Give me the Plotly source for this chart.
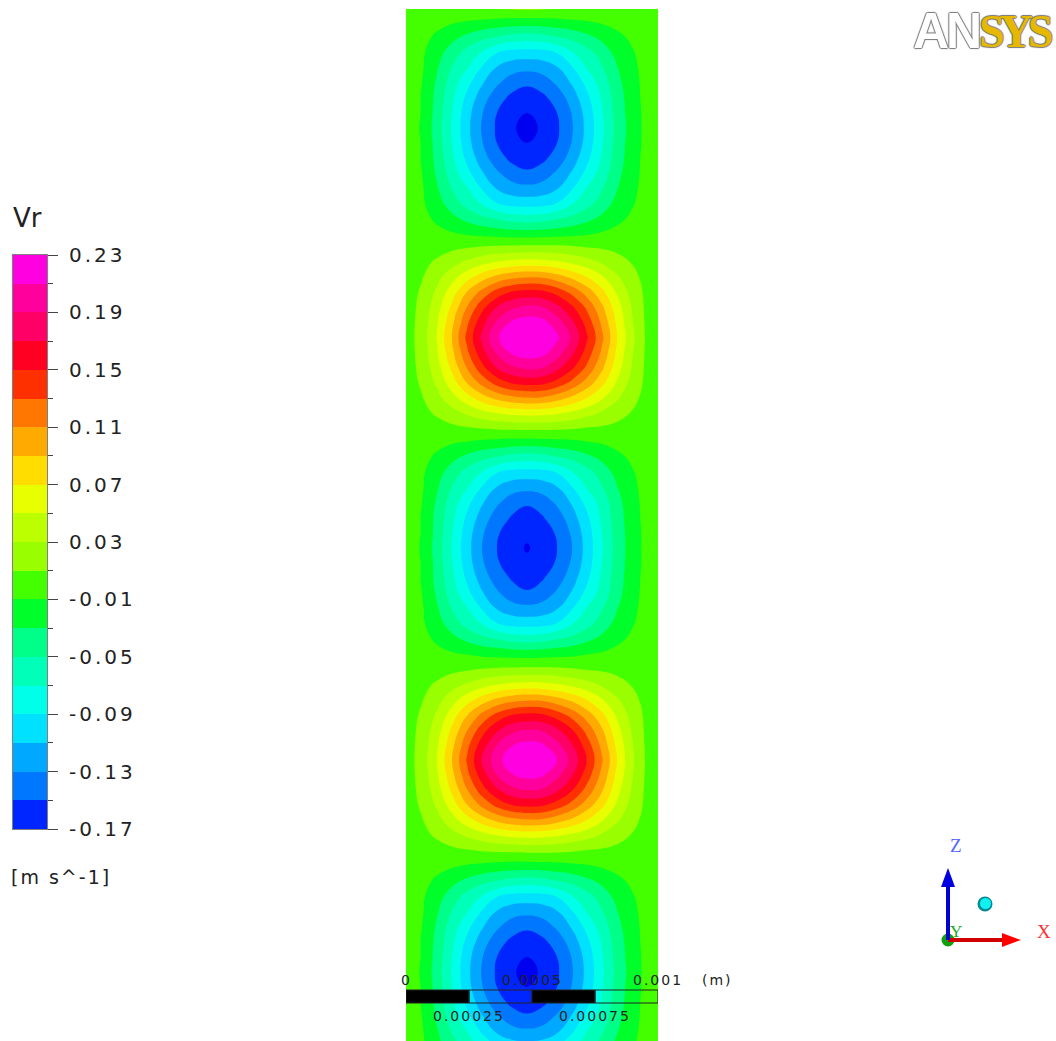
import numpy as np
import plotly.graph_objects as go

W, H = 1056, 1041

# Band colours, lowest (below the legend range) to highest
band_colors = ["#0000f0", "#0026ff", "#0077ff", "#00a8ff", "#00e0ff", "#00ffe8", "#00ffb8", "#00ff88",
               "#00ff2a", "#44ff00", "#99ff00", "#bbff00", "#e8ff00", "#ffdd00", "#ffaa00", "#ff7700",
               "#ff3000", "#ff0022", "#ff0066", "#ff009c", "#ff00e0"]
level_min, level_max, level_step = -0.19, 0.23, 0.02

# Sample positions, in 1/252 mm: across the channel, and downward from the image top
column_pos = [0, 16, 31, 46, 61, 76, 91, 106, 121, 136, 151, 166, 181, 196, 211, 226, 239, 252]
row_depth = [9, 23, 38, 53, 68, 83, 98, 113, 128, 143, 158, 173, 188, 203, 218, 233,
             247.5, 262.5, 277.5, 292.5, 307.5, 322.5, 337.5, 352.5, 367.5, 382.5, 397.5, 412.5, 427.5,
             443, 458, 473, 488, 503, 518, 533, 548, 563, 578, 593, 608, 623, 638, 653,
             670, 685, 700, 715, 730, 745, 760, 775, 790, 805, 820, 835, 850,
             867, 882, 897, 912, 927, 942, 957, 972, 987, 1002, 1017, 1032, 1041]

# Vr readings in thousandths of m/s; one list per vortex cell, rows top to bottom
cell_neg_1 = [
    [0, 1, 3, 5, 7, 9, 10, 11, 12, 11, 10, 9, 7, 5, 3, 1, 0, 0],
    [0, -1, -5, -9, -13, -16, -19, -21, -22, -21, -19, -16, -13, -9, -5, -3, -1, 0],
    [0, -4, -14, -25, -36, -46, -53, -60, -62, -60, -53, -46, -36, -26, -15, -7, -2, 0],
    [0, -7, -22, -40, -58, -72, -90, -98, -99, -98, -90, -72, -58, -41, -24, -12, -3, 0],
    [0, -8, -28, -51, -69, -92, -112, -122, -125, -122, -112, -92, -69, -52, -31, -15, -4, 0],
    [0, -10, -33, -60, -84, -108, -127, -141, -147, -141, -127, -108, -84, -61, -36, -17, -5, 0],
    [0, -11, -36, -66, -95, -121, -142, -155, -160, -155, -142, -121, -95, -68, -40, -19, -5, 0],
    [0, -11, -38, -70, -102, -129, -150, -163, -170, -163, -150, -129, -102, -72, -42, -20, -6, 0],
    [0, -12, -40, -72, -104, -132, -153, -167, -178, -167, -153, -132, -104, -74, -44, -21, -6, 0],
    [0, -11, -38, -70, -102, -129, -150, -163, -170, -163, -150, -129, -102, -72, -42, -20, -6, 0],
    [0, -11, -36, -66, -95, -121, -142, -155, -160, -155, -142, -121, -95, -68, -40, -19, -5, 0],
    [0, -10, -33, -60, -84, -108, -127, -141, -147, -141, -127, -108, -84, -61, -36, -17, -5, 0],
    [0, -8, -28, -51, -69, -92, -112, -122, -125, -122, -112, -92, -69, -52, -31, -15, -4, 0],
    [0, -7, -22, -40, -58, -72, -90, -98, -99, -98, -90, -72, -58, -41, -24, -12, -3, 0],
    [0, -4, -14, -25, -36, -46, -53, -60, -62, -60, -53, -46, -36, -26, -15, -7, -2, 0],
    [0, -1, -5, -9, -13, -16, -19, -21, -22, -21, -19, -16, -13, -9, -5, -3, -1, 0],
]
cell_pos_1 = [
    [0, 1, 3, 6, 9, 12, 14, 15, 16, 16, 15, 13, 10, 8, 5, 2, 1, 0],
    [0, 5, 13, 23, 34, 44, 52, 57, 59, 58, 54, 47, 38, 28, 18, 9, 3, 0],
    [0, 9, 24, 43, 63, 82, 97, 106, 110, 109, 100, 87, 71, 53, 33, 16, 5, 0],
    [0, 13, 34, 61, 91, 117, 139, 153, 158, 156, 144, 125, 102, 76, 48, 23, 7, 0],
    [0, 16, 42, 75, 111, 144, 171, 187, 194, 191, 176, 154, 126, 94, 59, 29, 8, 0],
    [0, 18, 48, 85, 126, 163, 193, 213, 220, 217, 200, 174, 142, 106, 66, 32, 9, 0],
    [0, 19, 51, 91, 135, 174, 207, 227, 235, 232, 214, 186, 152, 114, 71, 35, 10, 0],
    [0, 18, 48, 85, 126, 163, 193, 213, 220, 217, 200, 174, 142, 106, 66, 32, 9, 0],
    [0, 16, 42, 75, 111, 144, 171, 187, 194, 191, 176, 154, 126, 94, 59, 29, 8, 0],
    [0, 13, 34, 61, 91, 117, 139, 153, 158, 156, 144, 125, 102, 76, 48, 23, 7, 0],
    [0, 9, 24, 43, 63, 82, 97, 106, 110, 109, 100, 87, 71, 53, 33, 16, 5, 0],
    [0, 5, 13, 23, 34, 44, 52, 57, 59, 58, 54, 47, 38, 28, 18, 9, 3, 0],
    [0, 1, 3, 6, 9, 12, 14, 15, 16, 16, 15, 13, 10, 8, 5, 2, 1, 0],
]
cell_neg_2 = [
    [0, -1, -5, -9, -12, -16, -18, -20, -21, -20, -18, -16, -12, -9, -5, -2, -1, 0],
    [0, -4, -14, -25, -36, -46, -53, -60, -62, -60, -53, -46, -36, -26, -15, -7, -2, 0],
    [0, -7, -22, -40, -58, -72, -90, -98, -99, -98, -90, -72, -58, -41, -24, -12, -3, 0],
    [0, -8, -28, -51, -69, -92, -112, -122, -125, -122, -112, -92, -69, -52, -31, -15, -4, 0],
    [0, -10, -33, -60, -84, -108, -127, -142, -148, -142, -127, -108, -84, -62, -37, -17, -5, 0],
    [0, -11, -36, -65, -94, -119, -140, -152, -158, -152, -140, -119, -94, -66, -39, -19, -5, 0],
    [0, -11, -37, -69, -100, -127, -148, -159, -166, -159, -148, -127, -100, -70, -41, -20, -6, 0],
    [0, -12, -39, -71, -102, -130, -150, -163, -172, -163, -150, -130, -102, -72, -42, -20, -6, 0],
    [0, -11, -37, -69, -100, -127, -148, -159, -166, -159, -148, -127, -100, -70, -41, -20, -6, 0],
    [0, -11, -36, -65, -94, -119, -140, -152, -158, -152, -140, -119, -94, -66, -39, -19, -5, 0],
    [0, -10, -33, -60, -84, -108, -127, -142, -148, -142, -127, -108, -84, -62, -37, -17, -5, 0],
    [0, -8, -28, -51, -69, -92, -112, -122, -125, -122, -112, -92, -69, -52, -31, -15, -4, 0],
    [0, -7, -22, -40, -58, -72, -90, -98, -99, -98, -90, -72, -58, -41, -24, -12, -3, 0],
    [0, -4, -14, -25, -36, -46, -53, -60, -62, -60, -53, -46, -36, -26, -15, -7, -2, 0],
    [0, -1, -5, -9, -12, -16, -18, -20, -21, -20, -18, -16, -12, -9, -5, -2, -1, 0],
]
cell_pos_2 = [
    [0, 1, 3, 6, 9, 12, 14, 15, 16, 16, 15, 13, 10, 8, 5, 2, 1, 0],
    [0, 5, 13, 23, 33, 43, 51, 56, 58, 57, 53, 46, 38, 28, 18, 9, 2, 0],
    [0, 9, 23, 42, 62, 80, 95, 104, 108, 107, 98, 86, 70, 52, 33, 16, 5, 0],
    [0, 13, 33, 60, 89, 115, 136, 150, 155, 153, 141, 123, 100, 75, 47, 23, 7, 0],
    [0, 16, 41, 74, 109, 141, 167, 184, 190, 188, 173, 151, 123, 92, 57, 28, 8, 0],
    [0, 18, 47, 84, 124, 160, 190, 209, 216, 213, 196, 171, 140, 104, 65, 32, 9, 0],
    [0, 19, 50, 90, 132, 171, 203, 223, 231, 228, 210, 183, 149, 112, 70, 34, 10, 0],
    [0, 18, 47, 84, 124, 160, 190, 209, 216, 213, 196, 171, 140, 104, 65, 32, 9, 0],
    [0, 16, 41, 74, 109, 141, 167, 184, 190, 188, 173, 151, 123, 92, 57, 28, 8, 0],
    [0, 13, 33, 60, 89, 115, 136, 150, 155, 153, 141, 123, 100, 75, 47, 23, 7, 0],
    [0, 9, 23, 42, 62, 80, 95, 104, 108, 107, 98, 86, 70, 52, 33, 16, 5, 0],
    [0, 5, 13, 23, 33, 43, 51, 56, 58, 57, 53, 46, 38, 28, 18, 9, 2, 0],
    [0, 1, 3, 6, 9, 12, 14, 15, 16, 16, 15, 13, 10, 8, 5, 2, 1, 0],
]
cell_neg_3 = [
    [0, -1, -5, -9, -13, -16, -19, -21, -22, -21, -19, -16, -13, -9, -5, -3, -1, 0],
    [0, -4, -14, -25, -36, -46, -53, -60, -62, -60, -53, -46, -36, -26, -15, -7, -2, 0],
    [0, -7, -22, -40, -58, -72, -90, -98, -99, -98, -90, -72, -58, -41, -24, -12, -3, 0],
    [0, -8, -28, -51, -69, -92, -112, -122, -125, -122, -112, -92, -69, -52, -31, -15, -4, 0],
    [0, -10, -33, -60, -84, -108, -127, -141, -147, -141, -127, -108, -84, -61, -36, -17, -5, 0],
    [0, -11, -36, -66, -95, -121, -142, -155, -160, -155, -142, -121, -95, -68, -40, -19, -5, 0],
    [0, -11, -38, -70, -102, -129, -150, -163, -170, -163, -150, -129, -102, -72, -42, -20, -6, 0],
    [0, -12, -40, -72, -104, -132, -153, -167, -178, -167, -153, -132, -104, -74, -44, -21, -6, 0],
    [0, -11, -38, -70, -102, -129, -150, -163, -170, -163, -150, -129, -102, -72, -42, -20, -6, 0],
    [0, -11, -36, -66, -95, -121, -142, -155, -160, -155, -142, -121, -95, -68, -40, -19, -5, 0],
    [0, -10, -33, -60, -84, -108, -127, -141, -147, -141, -127, -108, -84, -61, -36, -17, -5, 0],
    [0, -8, -28, -51, -69, -92, -112, -122, -125, -122, -112, -92, -69, -52, -31, -15, -4, 0],
    [0, -7, -25, -45, -62, -82, -98, -108, -111, -108, -98, -82, -62, -46, -27, -13, -4, 0],
]

legend_tick_values = [0.23, 0.19, 0.15, 0.11, 0.07, 0.03, -0.01, -0.05, -0.09, -0.13, -0.17]
legend_tick_labels = ["0.23", "0.19", "0.15", "0.11", "0.07", "0.03", "-0.01", "-0.05", "-0.09", "-0.13", "-0.17"]
legend_minor_ticks = [0.21, 0.17, 0.13, 0.09, 0.05, 0.01, -0.03, -0.07, -0.11, -0.15]

scale_labels_top = ["0", "0.0005", "0.001"]
scale_values_top = [0.0, 0.0005, 0.001]
scale_labels_bottom = ["0.00025", "0.00075"]
scale_values_bottom = [0.00025, 0.00075]

metres_per_unit = 0.001 / 252


def px(x):
    return x / W


def py(y):
    return 1 - y / H


rows = cell_neg_1 + cell_pos_1 + cell_neg_2 + cell_pos_2 + cell_neg_3
z = np.array(rows) / 1000.0
x_grid = np.array(column_pos) * metres_per_unit
y_grid = (H - np.array(row_depth)) * metres_per_unit

n_bands = len(band_colors)
colorscale = []
for i, c in enumerate(band_colors):
    colorscale.append([i / n_bands, c])
    colorscale.append([(i + 1) / n_bands, c])

fig = go.Figure()
fig.add_trace(go.Contour(
    x=x_grid, y=y_grid, z=z, colorscale=colorscale, zmin=level_min, zmax=level_max, zauto=False,
    autocontour=False, showscale=False, hoverinfo="skip",
    contours=dict(start=level_min + level_step, end=level_max - level_step, size=level_step,
                  coloring="fill", showlines=False),
    line=dict(width=0, smoothing=1.3), xaxis="x", yaxis="y"))

band_mids = [level_min + level_step * (i + 0.5) for i in range(1, n_bands)]
band_edges = [level_min + level_step * (i + 1) for i in range(n_bands)]
fig.add_trace(go.Heatmap(
    x=[0], y=band_edges, z=[[m] for m in band_mids], colorscale=colorscale, zmin=level_min, zmax=level_max,
    showscale=False, hoverinfo="skip", xaxis="x2", yaxis="y2"))

annotations = []


def label(x, y, text, size, color="#222222", family="DejaVu Sans", anchor="left", **kw):
    font = dict(size=size, color=color, family=family)
    font.update(kw.pop("font_extra", {}))
    annotations.append(dict(xref="paper", yref="paper", x=px(x), y=py(y), text=text, showarrow=False,
                            xanchor=anchor, yanchor="middle", font=font, **kw))


label(11, 218, '<span style="letter-spacing:0px">Vr</span>', 26)
label(17, 877, "[m s^-1]", 19)

for v, t in zip(scale_values_top, scale_labels_top):
    annotations.append(dict(xref="x", yref="paper", x=v, y=py(980), text=t, showarrow=False, xanchor="center",
                            yanchor="middle", font=dict(size=14, color="#222222", family="DejaVu Sans")))
for v, t in zip(scale_values_bottom, scale_labels_bottom):
    annotations.append(dict(xref="x", yref="paper", x=v, y=py(1016), text=t, showarrow=False, xanchor="center",
                            yanchor="middle", font=dict(size=14, color="#222222", family="DejaVu Sans")))
label(703, 980, "(m)", 14)

label(1036, 931, "X", 19, color="#ff3333", family="Liberation Serif")
label(949, 931, "Y", 17, color="#22aa22", family="Liberation Serif")
label(949, 845, "Z", 19, color="#5566ff", family="Liberation Serif")

outline = "1px 0 1px #777, -1px 0 1px #777, 0 1px 1px #777, 0 -1px 1px #777"
label(911, 31, '<span style="letter-spacing:-3px">AN</span>', 50, color="#ffffff", family="Liberation Sans",
      font_extra=dict(shadow=outline, weight="bold"))
label(977, 31, '<span style="letter-spacing:-5px">SYS</span>', 46, color="#e6b800", family="Liberation Serif",
      font_extra=dict(shadow=outline, weight="bold"))

shapes = []
bar_low, bar_high = (H - 1003) / H, (H - 990) / H
for i in range(4):
    x0 = i * 0.00025
    shapes.append(dict(type="rect", xref="x", yref="paper", x0=x0, x1=x0 + 0.00025, y0=bar_low, y1=bar_high,
                       line=dict(color="#222222", width=1),
                       fillcolor="#000000" if i % 2 == 0 else "rgba(0,0,0,0)"))


def tri(points, color):
    path = "M " + " L ".join(f"{px(a):.5f},{py(b):.5f}" for a, b in points) + " Z"
    return dict(type="path", xref="paper", yref="paper", path=path, fillcolor=color, line=dict(width=0))


def circle(cx, cy, r, color):
    return dict(type="circle", xref="paper", yref="paper", x0=px(cx - r), x1=px(cx + r), y0=py(cy + r), y1=py(cy - r),
                fillcolor=color, line=dict(width=0))


shapes += [
    circle(948, 940, 6.5, "#11a011"),
    dict(type="line", xref="paper", yref="paper", x0=px(948), x1=px(1004), y0=py(940), y1=py(940),
         line=dict(color="#d00000", width=4)),
    tri([(1021, 940), (1002, 933), (1002, 947)], "#ff0000"),
    dict(type="line", xref="paper", yref="paper", x0=px(948), x1=px(948), y0=py(940), y1=py(885),
         line=dict(color="#0000d0", width=4)),
    tri([(948, 868), (941, 887), (955, 887)], "#0000e0"),
    circle(985, 904, 7.5, "#008a96"),
    circle(985.5, 903.5, 5.5, "#12f0f0"),
]

fig.update_layout(
    width=W, height=H, margin=dict(l=0, r=0, t=0, b=0, autoexpand=False), paper_bgcolor="#ffffff",
    plot_bgcolor="#ffffff", showlegend=False, annotations=annotations, shapes=shapes,
    xaxis=dict(domain=[px(406), px(658)], range=[0, 252 * metres_per_unit], visible=False, fixedrange=True),
    yaxis=dict(domain=[py(1041), py(9)], range=[0, 1032 * metres_per_unit], visible=False, fixedrange=True),
    xaxis2=dict(domain=[px(13), px(47)], range=[-0.5, 0.5], showticklabels=False, ticks="", showgrid=False,
                zeroline=False, showline=True, mirror=True, linecolor="#808080", linewidth=1, anchor="y2"),
    yaxis2=dict(domain=[py(829), py(255)], range=[-0.17, 0.23], side="right", anchor="x2", showgrid=False,
                zeroline=False, showline=True, mirror=True, linecolor="#808080", linewidth=1,
                tickmode="array", tickvals=legend_tick_values, ticktext=legend_tick_labels,
                ticks="outside", ticklen=10, tickcolor="#444444", tickwidth=1, ticklabelstandoff=7,
                tickfont=dict(size=20, color="#222222", family="DejaVu Sans"),
                minor=dict(tickmode="array", tickvals=legend_minor_ticks, ticks="outside", ticklen=5,
                           tickcolor="#444444", tickwidth=1, showgrid=False)),
)

post = """
document.body.style.margin = '0';
var s = document.createElement('style');
s.textContent = '.ytick text, .y2tick text {letter-spacing: 3px;} ' +
                '.annotation-text {letter-spacing: 2px;}';
document.head.appendChild(s);
"""
fig.write_html("out.html", config=dict(displayModeBar=False), post_script=post)
